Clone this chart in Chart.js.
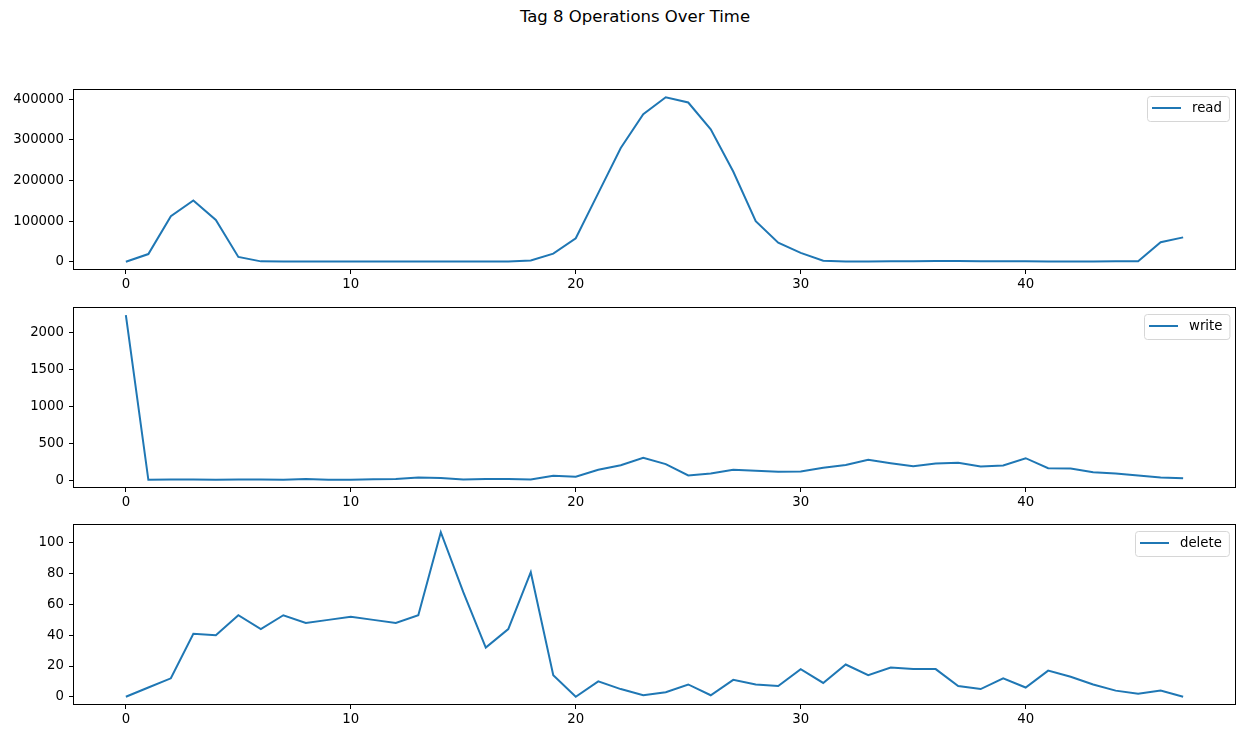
<!DOCTYPE html>
<html>
<head>
<meta charset="utf-8">
<script src="https://cdn.jsdelivr.net/npm/chart.js@4.4.0/dist/chart.umd.min.js"></script>
<style>
  body { margin: 0; background: #fff; }
  #wrap { position: relative; width: 1245px; height: 739px; }
  #title { position: absolute; left: 0; width: 1270px; top: 7px; text-align: center;
           font-family: "DejaVu Sans", sans-serif; font-size: 16.5px; color: #000; }
  canvas { position: absolute; left: 0; }
</style>
</head>
<body>
<div id="wrap">
  <div id="title">Tag 8 Operations Over Time</div>
  <canvas id="c-read" width="1245" height="222" style="top:76px"></canvas>
  <canvas id="c-write" width="1245" height="222" style="top:294px"></canvas>
  <canvas id="c-delete" width="1245" height="222" style="top:511px"></canvas>
</div>
<script>
const steps = [0,1,2,3,4,5,6,7,8,9,10,11,12,13,14,15,16,17,18,19,20,21,22,23,
  24,25,26,27,28,29,30,31,32,33,34,35,36,37,38,39,40,41,42,43,44,45,46,47];

const readOps = [0,19000,112000,151000,103000,12000,1000,800,600,500,400,400,
  400,500,600,700,600,500,3000,20000,58000,169000,280000,363000,
  405000,392000,326000,222000,100000,47000,22000,2500,800,900,1200,1500,
  1800,1800,1500,1300,1000,800,700,800,1000,1500,48000,60000];

const writeOps = [2240,5,10,10,5,10,10,5,15,5,5,12,
  14,35,30,9,14,14,9,59,45,140,203,305,
  217,63,90,140,126,113,117,167,205,276,230,190,
  226,235,185,199,298,163,158,108,90,63,37,27];

const deleteOps = [0,6,12,41,40,53,44,53,48,50,52,50,
  48,53,107,68,32,44,81,14,0,10,5,1,
  3,8,1,11,8,7,18,9,21,14,19,18,
  18,7,5,12,6,17,13,8,4,2,4,0];

const xTicks = [0, 10, 20, 30, 40];
const readTicks = [0, 100000, 200000, 300000, 400000];
const writeTicks = [0, 500, 1000, 1500, 2000];
const deleteTicks = [0, 20, 40, 60, 80, 100];

const FONT = { family: "'DejaVu Sans', sans-serif", size: 13.3 };
const BLUE = '#1f77b4';

// box around the plot area + matplotlib style legend in the top right
const framePlugin = {
  id: 'frame',
  afterDraw(chart) {
    const { ctx, chartArea: a } = chart;
    ctx.save();
    ctx.strokeStyle = '#000';
    ctx.lineWidth = 1;
    ctx.strokeRect(Math.round(a.left) + 0.5, Math.round(a.top) + 0.5,
                   Math.round(a.right - a.left) - 1, Math.round(a.bottom - a.top) - 1);

    const label = chart.data.datasets[0].label;
    ctx.font = FONT.size + 'px ' + FONT.family;
    const tw = ctx.measureText(label).width;
    const w = 5 + 29 + 11 + tw + 7;
    const h = 25;
    const x = Math.round(a.right - 7 - w);
    const y = Math.round(a.top + 7);
    ctx.beginPath();
    ctx.roundRect(x + 0.5, y + 0.5, w, h, 3);
    ctx.fillStyle = 'rgba(255,255,255,0.8)';
    ctx.fill();
    ctx.strokeStyle = '#d6d6d6';
    ctx.stroke();
    ctx.beginPath();
    ctx.moveTo(x + 5, y + 12);
    ctx.lineTo(x + 34, y + 12);
    ctx.strokeStyle = BLUE;
    ctx.lineWidth = 2;
    ctx.stroke();
    ctx.fillStyle = '#000';
    ctx.textBaseline = 'middle';
    ctx.fillText(label, x + 45, y + 12.5);
    ctx.restore();
  }
};

function makeChart(id, label, values, yTicks) {
  const lo = Math.min(...values), hi = Math.max(...values);
  const pad = (hi - lo) * 0.05;
  const xPad = (steps[steps.length - 1] - steps[0]) * 0.05;
  new Chart(document.getElementById(id), {
    type: 'line',
    data: {
      datasets: [{
        label: label,
        data: steps.map((s, i) => ({ x: s, y: values[i] })),
        borderColor: BLUE,
        borderWidth: 2,
        pointRadius: 0,
        tension: 0,
        fill: false
      }]
    },
    options: {
      responsive: false,
      animation: false,
      layout: { padding: { top: 0, right: 9, left: 0, bottom: 0 } },
      plugins: { legend: { display: false }, tooltip: { enabled: false } },
      scales: {
        x: {
          type: 'linear',
          min: steps[0] - xPad,
          max: steps[steps.length - 1] + xPad,
          afterBuildTicks: s => { s.ticks = xTicks.map(v => ({ value: v })); },
          afterFit: s => { s.height = 28; },
          ticks: { color: '#000', font: FONT, padding: 3, maxRotation: 0,
                   callback: v => String(v) },
          grid: { drawOnChartArea: false, drawTicks: true, tickLength: 4, tickColor: '#000' },
          border: { display: false }
        },
        y: {
          min: lo - pad,
          max: hi + pad,
          afterBuildTicks: s => { s.ticks = yTicks.map(v => ({ value: v })); },
          afterFit: s => { s.width = 73; },
          ticks: { color: '#000', font: FONT, padding: 5,
                   callback: v => String(v) },
          grid: { drawOnChartArea: false, drawTicks: true, tickLength: 4, tickColor: '#000' },
          border: { display: false }
        }
      }
    },
    plugins: [framePlugin]
  });
}

makeChart('c-read', 'read', readOps, readTicks);
makeChart('c-write', 'write', writeOps, writeTicks);
makeChart('c-delete', 'delete', deleteOps, deleteTicks);
</script>
</body>
</html>
